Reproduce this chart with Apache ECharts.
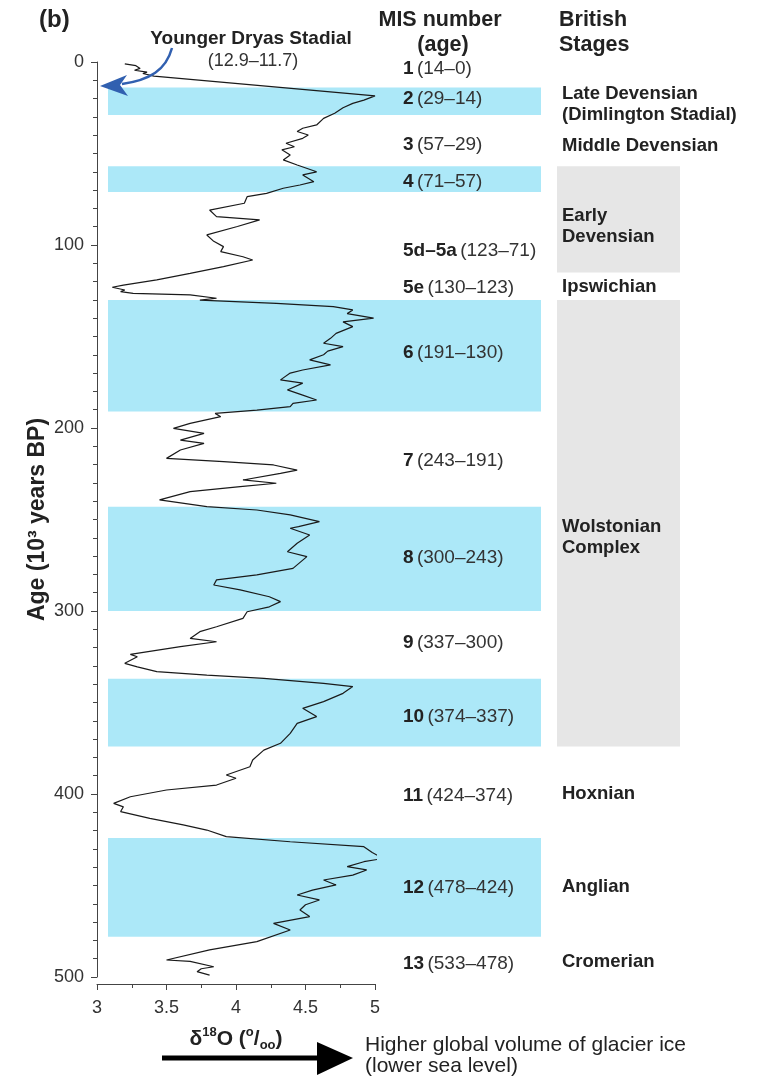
<!DOCTYPE html>
<html><head><meta charset="utf-8">
<script src="https://cdn.jsdelivr.net/npm/echarts@6/dist/echarts.min.js"></script>
<style>html,body{margin:0;padding:0;background:#fff}#c{width:764px;height:1078px}</style>
</head><body><div id="c"></div>
<script>
// ---- Data ----
const ageKa = [1,2,3.5,4.5,5.5,6.3,7.7,18.5,20.8,22.6,25,28,30.8,34.4,36.2,38,39.9,41.7,44.4,46.3,48,50.8,53.5,56.3,60,61.7,65.4,67.2,69,71.8,73.6,77.2,80.9,84.5,86.3,89.9,94.5,98,100.9,103.6,106.4,108.2,111.8,115.5,119.1,121.9,123.1,124.6,125.5,126.4,127.3,129.1,130.1,131.9,133.7,135.5,137.5,140,142,144.6,148.3,151,153.7,155.5,158,160,162.8,165.5,168.3,170,173.7,175.5,179.2,182,184.7,186.5,188.3,190.2,192,193.8,197.5,200.2,202.9,206.6,208.4,212,216.6,218.4,220.2,223,224.8,228.4,230.2,232,234.8,239.3,243,244.8,247.5,251.2,253.9,254.8,258.5,263,267.6,270.3,276.7,280.3,283,285.8,288.5,292.2,294.9,297.7,300.4,304,308.6,311.3,315,316.8,319.5,323.7,325,328.6,330.5,333.1,335,336.8,339.6,341.3,345,349.5,353.2,357.7,361.4,366.9,372.3,376,381.4,385.1,389.6,391.4,395.1,397.8,401.5,405.1,407,409.6,413.3,416.9,419.7,423.3,426.1,428.8,432,435.2,437,439.7,441.5,444.3,447,449.7,452.5,455.2,457.9,460.5,463.4,467,470.7,474.3,480.7,485.2,490.7,491.5,494.4,495.5,497.1,499];
const d18O = [3.20,3.28,3.31,3.27,3.36,3.33,3.41,5.0,4.92,4.84,4.77,4.71,4.63,4.58,4.48,4.44,4.52,4.48,4.36,4.42,4.33,4.39,4.34,4.44,4.58,4.48,4.56,4.46,4.34,4.22,4.08,4.06,3.81,3.86,4.17,4.01,3.79,3.84,3.91,3.89,4.05,4.12,3.91,3.67,3.43,3.19,3.11,3.20,3.17,3.26,3.67,3.86,3.74,4.29,4.70,4.84,4.80,4.99,4.77,4.84,4.72,4.68,4.63,4.77,4.66,4.63,4.53,4.68,4.48,4.39,4.32,4.48,4.37,4.48,4.58,4.41,4.39,4.15,3.85,3.89,3.67,3.55,3.77,3.60,3.77,3.60,3.50,3.91,4.27,4.44,4.32,4.05,4.29,4.03,3.67,3.45,3.79,4.15,4.39,4.60,4.45,4.39,4.53,4.44,4.37,4.51,4.41,4.15,3.86,3.84,4.03,4.24,4.32,4.24,4.08,4.05,3.86,3.74,3.67,3.86,3.60,3.24,3.29,3.20,3.29,3.43,3.79,4.20,4.63,4.84,4.77,4.63,4.48,4.58,4.44,4.39,4.32,4.20,4.12,4.10,3.93,4.00,3.86,3.50,3.24,3.12,3.19,3.17,3.38,3.62,3.79,3.93,4.39,4.92,4.98,5.06,4.92,4.80,4.94,4.84,4.63,4.72,4.55,4.44,4.60,4.50,4.46,4.53,4.27,4.39,4.15,3.81,3.50,3.67,3.84,3.75,3.72,3.81];

const misNames = ['1','2','3','4','5d–5a','5e','6','7','8','9','10','11','12','13'];
const misYoung = [0,14,29,57,71,123,130,191,243,300,337,374,424,478];
const misOld   = [14,29,57,71,123,130,191,243,300,337,374,424,478,533];
const misGlacial = [false,true,false,true,false,false,true,false,true,false,true,false,true,false];
const misLabelAge = [3.5,20,45.5,65.5,103,123.5,159,218,271,317.5,358,401,451,493];

const stageNames = ['Late Devensian\n(Dimlington Stadial)','Middle Devensian','Early\nDevensian','Ipswichian','Wolstonian\nComplex','Hoxnian','Anglian','Cromerian'];
const stageLabelAge = [23,46,89.6,123,260,400,451,492];
const stageBoxYoung = [57,130];
const stageBoxOld = [115,374];

const ageTicks = [0,100,200,300,400,500];
const d18OTicks = [3,3.5,4,4.5,5];

// ---- Chart ----
const FONT = '"Liberation Sans", Arial, Helvetica, sans-serif';
const chart = echarts.init(document.getElementById('c'), null, {renderer:'canvas'});
const TOP = 62, H = 915;

const bandData = [];
misGlacial.forEach((g,i)=>{ if(g) bandData.push([misYoung[i], misOld[i]]); });
const boxData = stageBoxYoung.map((y,i)=>[y, stageBoxOld[i]]);

function rectItem(color){
  return function(params, api){
    const y0 = api.coord([0, api.value(0)])[1];
    const y1 = api.coord([0, api.value(1)])[1];
    const cs = params.coordSys;
    return {type:'rect', shape:{x:cs.x, y:y0, width:cs.width, height:y1-y0}, style:{fill:color}};
  };
}

const option = {
  backgroundColor:'#fff',
  animation:false,
  textStyle:{fontFamily:FONT},
  grid:[
    {left:97, top:TOP, width:278, height:H},
    {left:108, top:TOP, width:433, height:H},
    {left:557, top:TOP, width:123, height:H}
  ],
  xAxis:[
    {gridIndex:0, type:'value', min:3, max:5, interval:0.5, offset:7, position:'bottom',
     axisLine:{show:true, onZero:false, lineStyle:{color:'#444', width:1}},
     axisTick:{show:true, length:6, lineStyle:{color:'#444'}},
     minorTick:{show:true, splitNumber:2, length:4, lineStyle:{color:'#444'}},
     splitLine:{show:false},
     axisLabel:{fontSize:18, color:'#333', margin:15, fontFamily:FONT,
       formatter:v=> d18OTicks.includes(+v.toFixed(2)) ? String(v) : ''},
     name:'{n|δ}{s|18}{n|O (}{s|o}{n|/}{b|oo}{n|)}', nameLocation:'middle', nameGap:42,
     nameTextStyle:{fontFamily:FONT, rich:{
       n:{fontSize:21, fontWeight:'bold', color:'#222', lineHeight:26, fontFamily:FONT},
       s:{fontSize:13, fontWeight:'bold', color:'#222', verticalAlign:'top', lineHeight:13, fontFamily:FONT},
       b:{fontSize:13, fontWeight:'bold', color:'#222', verticalAlign:'bottom', lineHeight:13, fontFamily:FONT}
     }}},
    {gridIndex:1, type:'value', min:0, max:1, show:false},
    {gridIndex:2, type:'value', min:0, max:1, show:false}
  ],
  yAxis:[
    {gridIndex:0, type:'value', inverse:true, min:0, max:500, interval:100,
     axisLine:{show:true, onZero:false, lineStyle:{color:'#444', width:1}},
     axisTick:{show:true, length:6, lineStyle:{color:'#444'}},
     minorTick:{show:true, splitNumber:10, length:4, lineStyle:{color:'#444'}},
     splitLine:{show:false},
     axisLabel:{fontSize:18, color:'#333', margin:13, fontFamily:FONT,
       formatter:v=> ageTicks.includes(v) ? String(v) : ''},
     name:'Age (10³ years BP)', nameLocation:'middle', nameGap:48, nameRotate:90,
     nameTextStyle:{fontSize:23, fontWeight:'bold', color:'#222', fontFamily:FONT}},
    {gridIndex:1, type:'value', inverse:true, min:0, max:500, show:false},
    {gridIndex:2, type:'value', inverse:true, min:0, max:500, show:false}
  ],
  series:[
    {type:'custom', xAxisIndex:1, yAxisIndex:1, z:1, silent:true,
     data:bandData, encode:{y:[0,1]}, renderItem:rectItem('#ace8f8')},
    {type:'custom', xAxisIndex:2, yAxisIndex:2, z:1, silent:true,
     data:boxData, encode:{y:[0,1]}, renderItem:rectItem('#e6e6e6')},
    {type:'custom', xAxisIndex:1, yAxisIndex:1, z:6, silent:true,
     data:misLabelAge.map(a=>[a]), encode:{y:0},
     renderItem:function(params, api){
       const i = params.dataIndex;
       const y = api.coord([0, api.value(0)])[1];
       return {type:'text', x:403, y:y, style:{
         text:'{b|'+misNames[i]+'} {n|('+misOld[i]+'–'+misYoung[i]+')}',
         verticalAlign:'middle', align:'left',
         rich:{b:{fontSize:19, fontWeight:'bold', fill:'#222', fontFamily:FONT},
               n:{fontSize:19, fill:'#333', fontFamily:FONT}}
       }};
     }},
    {type:'custom', xAxisIndex:2, yAxisIndex:2, z:6, silent:true,
     data:stageLabelAge.map(a=>[a]), encode:{y:0},
     renderItem:function(params, api){
       const i = params.dataIndex;
       const y = api.coord([0, api.value(0)])[1];
       return {type:'text', x:562, y:y, style:{
         text:stageNames[i], verticalAlign:'middle', align:'left',
         font:'bold 18.5px '+FONT, fill:'#222', lineHeight:21
       }};
     }},
    {type:'line', xAxisIndex:0, yAxisIndex:0, z:5, clip:false, showSymbol:false, silent:true,
     data:ageKa.map((a,i)=>[d18O[i], a]),
     lineStyle:{color:'#1a1a1a', width:1.2}}
  ],
  graphic:[
    {type:'text', x:39, y:20, style:{text:'(b)', font:'bold 24px '+FONT, fill:'#222', align:'left', verticalAlign:'middle'}},
    {type:'text', x:440, y:20, style:{text:'MIS number', font:'bold 21.5px '+FONT, fill:'#222', align:'center', verticalAlign:'middle'}},
    {type:'text', x:443, y:45, style:{text:'(age)', font:'bold 21.5px '+FONT, fill:'#222', align:'center', verticalAlign:'middle'}},
    {type:'text', x:559, y:20, style:{text:'British', font:'bold 21.5px '+FONT, fill:'#222', align:'left', verticalAlign:'middle'}},
    {type:'text', x:559, y:45, style:{text:'Stages', font:'bold 21.5px '+FONT, fill:'#222', align:'left', verticalAlign:'middle'}},
    {type:'text', x:251, y:39, style:{text:'Younger Dryas Stadial', font:'bold 19px '+FONT, fill:'#222', align:'center', verticalAlign:'middle'}},
    {type:'text', x:253, y:61, style:{text:'(12.9–11.7)', font:'18px '+FONT, fill:'#333', align:'center', verticalAlign:'middle'}},
    {type:'bezierCurve', shape:{x1:172, y1:48, cpx1:166, cpy1:70, cpx2:150, cpy2:80, x2:122, y2:84},
     style:{stroke:'#3160b0', lineWidth:2.5, fill:null}, z:10},
    {type:'polygon', shape:{points:[[100,86],[127,75],[120,85],[128,96]]}, style:{fill:'#3160b0'}, z:10},
    {type:'line', shape:{x1:162, y1:1058, x2:322, y2:1058}, style:{stroke:'#000', lineWidth:5}},
    {type:'polygon', shape:{points:[[317,1042],[353,1058],[317,1075]]}, style:{fill:'#000'}},
    {type:'text', x:365, y:1045, style:{text:'Higher global volume of glacier ice', font:'21px '+FONT, fill:'#222', align:'left', verticalAlign:'middle'}},
    {type:'text', x:365, y:1066, style:{text:'(lower sea level)', font:'21px '+FONT, fill:'#222', align:'left', verticalAlign:'middle'}}
  ]
};
chart.setOption(option);
</script>
</body></html>
